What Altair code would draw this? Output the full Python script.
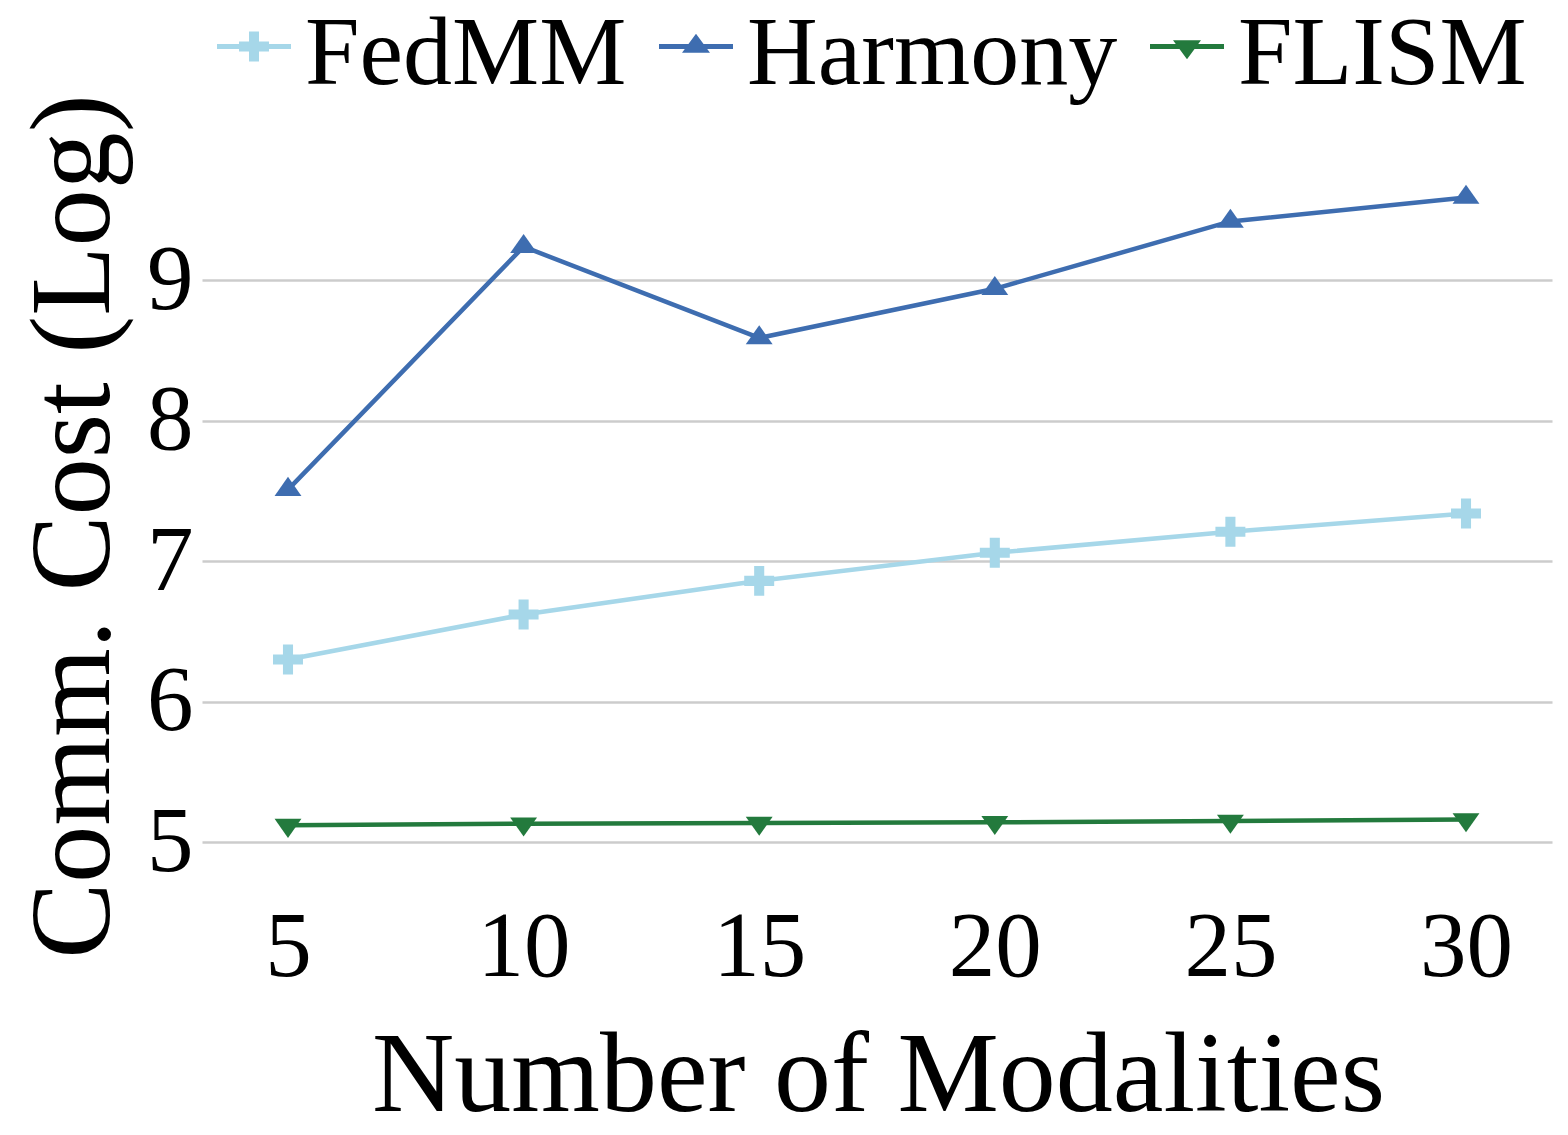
import altair as alt
import pandas as pd

# ---- data ----
modalities = ["5", "10", "15", "20", "25", "30"]
series_names = ["FedMM", "Harmony", "FLISM"]
fedmm = [6.30, 6.62, 6.86, 7.06, 7.21, 7.34]
harmony = [7.51, 9.24, 8.59, 8.94, 9.42, 9.59]
flism = [5.12, 5.13, 5.135, 5.14, 5.15, 5.16]
y_ticks = [5, 6, 7, 8, 9]

# ---- styles ----
colors = ["#A6D7E9", "#3E6DB0", "#237A3D"]
FONT = "Liberation Serif"

marker_paths = [
    "M-1.07,-0.36H-0.36V-1.07H0.36V-0.36H1.07V0.36H0.36V1.07H-0.36V0.36H-1.07Z",
    "M-0.96,0.45L0,-0.91L0.96,0.45Z",
    "M-0.96,-0.45L0.96,-0.45L0,0.91Z",
]
bar = "M-1,-0.298H1V-0.162H-1Z"
legend_paths = [
    bar + "M-0.405,-0.365H-0.135V-0.635H0.135V-0.365H0.405V-0.095H0.135V0.175H-0.135V-0.095H-0.405Z",
    bar + "M-0.378,-0.06L0,-0.573L0.378,-0.06Z",
    bar + "M-0.378,-0.40L0.378,-0.40L0,0.113Z",
]

rows = []
for name, vals in zip(series_names, [fedmm, harmony, flism]):
    for m, v in zip(modalities, vals):
        rows.append({"modalities": m, "series": name, "cost": v})
df = pd.DataFrame(rows)

x_enc = alt.X(
    "modalities:O",
    sort=modalities,
    scale=alt.Scale(type="point", padding=0.365),
    axis=alt.Axis(
        title="Number of Modalities",
        labelAngle=0,
        labelFont=FONT,
        labelFontSize=93,
        labelColor="black",
        labelBaseline="alphabetic",
        labelPadding=133,
        ticks=False,
        tickSize=0,
        domain=False,
        grid=False,
        titleFont=FONT,
        titleFontSize=114,
        titleFontWeight="normal",
        titleColor="black",
        titleBaseline="alphabetic",
        titleAlign="center",
        titleX=676,
        titleY=268,
    ),
)
y_enc = alt.Y(
    "cost:Q",
    scale=alt.Scale(domain=[5, 10], nice=False, zero=False),
    axis=alt.Axis(
        values=y_ticks,
        title="Comm. Cost (Log)",
        labelFont=FONT,
        labelFontSize=93,
        labelColor="black",
        labelPadding=9,
        ticks=False,
        tickSize=0,
        domain=False,
        grid=True,
        gridColor="#cccccc",
        gridWidth=2.5,
        titleFont=FONT,
        titleFontSize=114,
        titleFontWeight="normal",
        titleColor="black",
        titleAngle=270,
        titleBaseline="alphabetic",
        titleAlign="center",
        titleX=-94,
        titleY=386,
    ),
)

legend = alt.Legend(
    title=None,
    orient="none",
    legendX=3,
    legendY=-134,
    direction="horizontal",
    labelFont=FONT,
    labelFontSize=98,
    labelColor="black",
    labelLimit=2000,
    labelOffset=2,
    columnPadding=20,
    symbolSize=5476,
    symbolStrokeWidth=0,
)

base = alt.Chart(df)
layers = []
for i, name in enumerate(series_names):
    layers.append(
        base.transform_filter(alt.datum.series == name)
        .mark_line(strokeWidth=4.5, color=colors[i])
        .encode(x=x_enc, y=y_enc)
    )
for i, name in enumerate(series_names):
    layers.append(
        base.transform_filter(alt.datum.series == name)
        .mark_point(filled=True, shape=marker_paths[i], size=784, color=colors[i], opacity=1)
        .encode(x=x_enc, y=y_enc)
    )
# legend-only layer: no rows reach it, its scales carry the series domain
layers.append(
    base.transform_filter("false")
    .mark_point(filled=True, opacity=1)
    .encode(
        color=alt.Color(
            "series:N",
            sort=series_names,
            scale=alt.Scale(domain=series_names, range=colors),
            legend=legend,
        ),
        shape=alt.Shape(
            "series:N",
            sort=series_names,
            scale=alt.Scale(domain=series_names, range=legend_paths),
            legend=legend,
        ),
    )
)

chart = (
    alt.layer(*layers)
    .properties(
        width=1350,
        height=702,
        background="white",
        autosize=alt.AutoSizeParams(type="none"),
        padding={"left": 194, "top": 132, "right": 8, "bottom": 290},
    )
    .configure_view(stroke=None)
)

chart.save("out.html", embed_options={"renderer": "svg", "actions": False})
